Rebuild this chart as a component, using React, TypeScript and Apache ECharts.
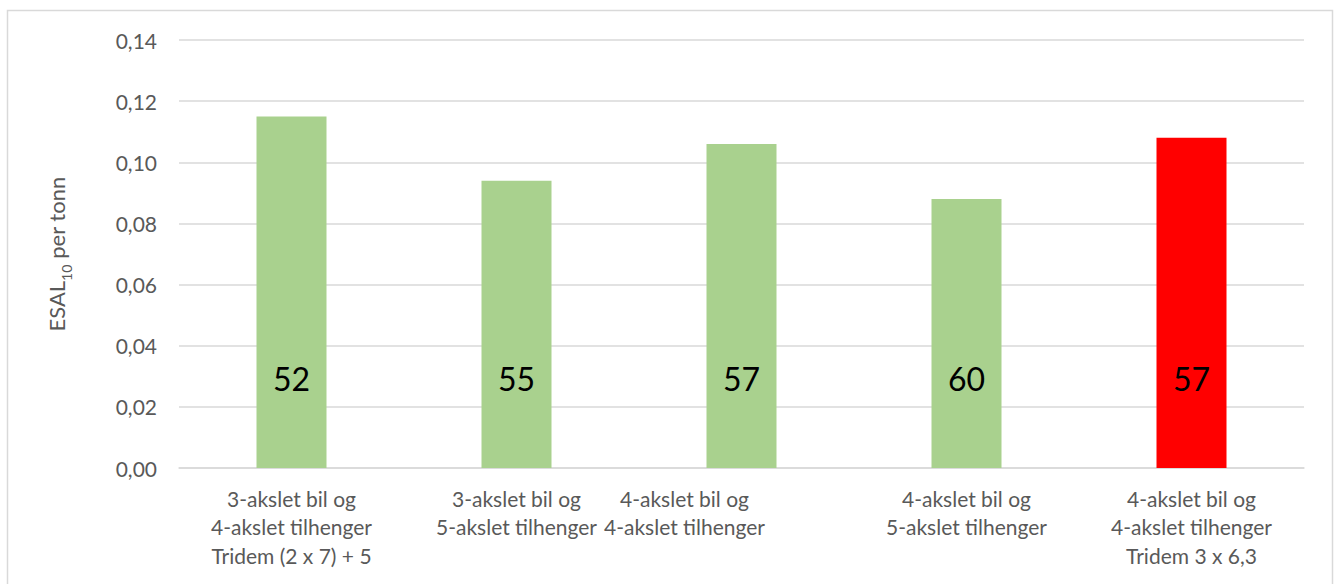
import React, { useEffect, useRef } from "react";
import * as echarts from "echarts";

const categories = [
  "3-akslet bil og\n4-akslet tilhenger\nTridem (2 x 7) + 5",
  "3-akslet bil og\n5-akslet tilhenger",
  "4-akslet bil og\n4-akslet tilhenger",
  "4-akslet bil og\n5-akslet tilhenger",
  "4-akslet bil og\n4-akslet tilhenger\nTridem 3 x 6,3",
];
const esalPerTonn = [0.115, 0.094, 0.106, 0.088, 0.108];
const barLabels = ["52", "55", "57", "60", "57"];
const barColors = ["#a9d18e", "#a9d18e", "#a9d18e", "#a9d18e", "#ff0000"];
const yMin = 0;
const yMax = 0.14;
const yInterval = 0.02;

export default function App() {
  const ref = useRef<HTMLDivElement>(null);
  useEffect(() => {
    document.body.style.margin = "0";
    const chart = echarts.init(ref.current!, null, { renderer: "svg" });
    const font = "Lato, 'Open Sans', sans-serif";
    const fs = 21;
    chart.setOption({
      animation: false,
      backgroundColor: "#ffffff",
      graphic: [
        {
          type: "rect",
          shape: { x: 7.5, y: 10.5, width: 1325, height: 600 },
          style: { fill: "none", stroke: "#d9d9d9", lineWidth: 1.5 },
          silent: true,
        },
      ],
      grid: { left: 179, right: 37, top: 40, bottom: 116 },
      xAxis: {
        type: "category",
        data: categories,
        axisTick: { show: false },
        axisLine: { lineStyle: { color: "#d9d9d9", width: 1.5 } },
        axisLabel: {
          interval: 0,
          margin: 16,
          color: "#595959",
          fontFamily: font,
          fontSize: fs,
          lineHeight: 28.5,
          formatter: (v: string, i: number) => {
            if (i === 2) {
              return v
                .split("\n")
                .map((l) => `{t|${l}}{g|}`)
                .join("\n");
            }
            return v;
          },
          rich: {
            t: { color: "#595959", fontFamily: font, fontSize: fs, lineHeight: 28.5 },
            g: { width: 114, lineHeight: 28.5 },
          },
        },
      },
      yAxis: {
        type: "value",
        min: yMin,
        max: yMax,
        interval: yInterval,
        name: "{a|ESAL}{b|10}{a| per tonn}",
        nameLocation: "middle",
        nameGap: 112,
        nameTextStyle: {
          rich: {
            a: { fontFamily: font, fontSize: 22, color: "#595959", lineHeight: 28, verticalAlign: "bottom" },
            b: { fontFamily: font, fontSize: 14, color: "#595959", lineHeight: 28, verticalAlign: "bottom", padding: [0, 0, -6, 0] },
          },
        },
        axisLabel: {
          color: "#595959",
          fontFamily: font,
          fontSize: fs,
          margin: 22,
          formatter: (v: number) => v.toFixed(2).replace(".", ","),
        },
        splitLine: { lineStyle: { color: "#d9d9d9", width: 1.5 } },
        axisLine: { show: false },
        axisTick: { show: false },
      },
      series: [
        {
          type: "bar",
          barWidth: 70,
          data: esalPerTonn.map((v, i) => ({
            value: v,
            itemStyle: { color: barColors[i] },
          })),
          label: {
            show: true,
            position: "insideBottom",
            distance: 74,
            color: "#000000",
            fontFamily: font,
            fontSize: 32,
            formatter: (p: any) => barLabels[p.dataIndex],
          },
        },
      ],
    });
    return () => chart.dispose();
  }, []);
  return <div ref={ref} style={{ width: 1341, height: 584 }} />;
}
